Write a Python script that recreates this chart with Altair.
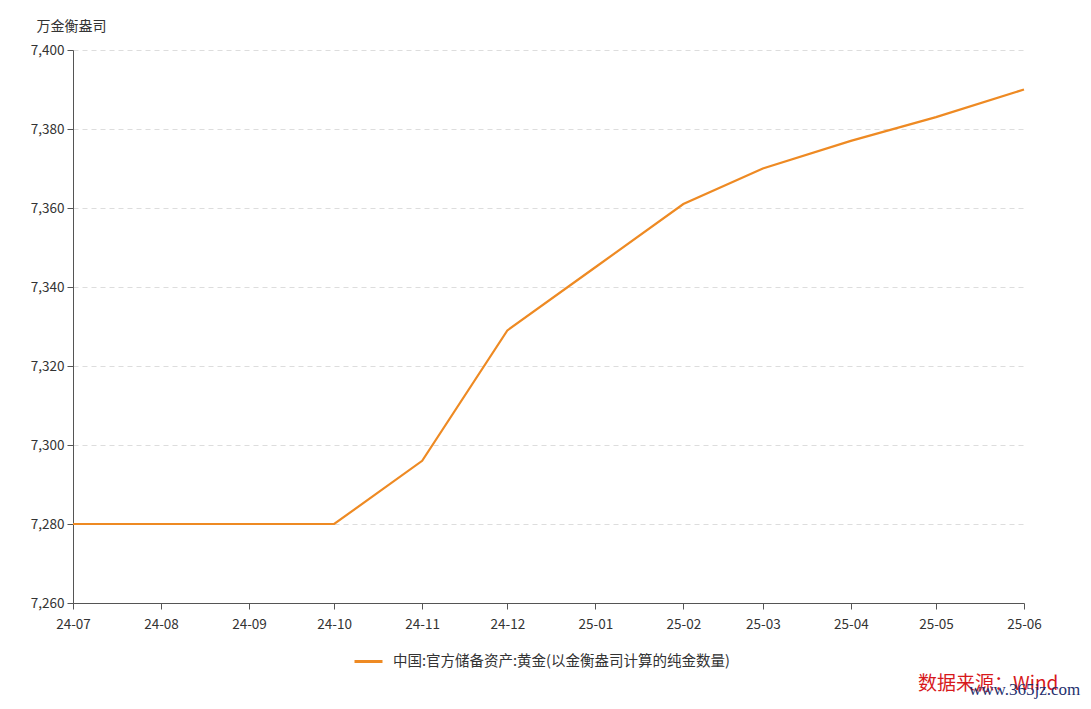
import altair as alt
import pandas as pd

months = ["2024-07-01", "2024-08-01", "2024-09-01", "2024-10-01", "2024-11-01", "2024-12-01",
          "2025-01-01", "2025-02-01", "2025-03-01", "2025-04-01", "2025-05-01", "2025-06-01"]
values = [7280, 7280, 7280, 7280, 7296, 7329, 7345, 7361, 7370, 7377, 7383, 7390]
series_name = "中国:官方储备资产:黄金(以金衡盎司计算的纯金数量)"
y_ticks = [7260, 7280, 7300, 7320, 7340, 7360, 7380, 7400]
unit_label = "万金衡盎司"
source_label = "数据来源：Wind"
watermark = "www.365jz.com"

df = pd.DataFrame({"date": months, "value": values, "series": [series_name] * len(months)})

FONT = "Noto Sans CJK SC"
tick_dates = [alt.DateTime(year=int(m[:4]), month=int(m[5:7]), date=1, utc=True) for m in months]

line = alt.Chart(df).mark_line(strokeWidth=2.2, color="#EE8A23").encode(
    x=alt.X("date:T",
            scale=alt.Scale(type="utc", domain=[tick_dates[0], tick_dates[-1]], nice=False),
            axis=alt.Axis(title=None, labelExpr="utcFormat(datum.value, '%y-%m')", values=tick_dates,
                          grid=False, domainColor="#555", tickColor="#555", tickSize=6,
                          labelFlush=False, labelOverlap=False,
                          labelColor="#333", labelFontSize=13.5, labelPadding=8, labelFont=FONT)),
    y=alt.Y("value:Q",
            scale=alt.Scale(domain=[7260, 7400], nice=False, zero=False),
            axis=alt.Axis(title=unit_label, titleAngle=0, titleAlign="left", titleX=-37, titleY=-20,
                          titleBaseline="alphabetic", titleFontWeight="normal", titleFontSize=14,
                          titleColor="#333", titleFont=FONT,
                          values=y_ticks, labelExpr="format(datum.value, ',')",
                          grid=True, gridDash=[5, 4], gridColor="#DDDDDD",
                          domainColor="#555", tickColor="#555", tickSize=6, labelColor="#333",
                          labelFontSize=13.5, labelPadding=3, labelFont=FONT)),
    color=alt.Color("series:N", scale=alt.Scale(domain=[series_name], range=["#EE8A23"]),
                    legend=alt.Legend(title=None, orient="none", legendX=280, legendY=596,
                                      symbolType="stroke", symbolStrokeWidth=3, symbolSize=784,
                                      labelOffset=9,
                                      labelFontSize=14.5, labelColor="#333", labelFont=FONT,
                                      labelLimit=700)),
)

src = alt.Chart(pd.DataFrame({"t": [source_label]})).mark_text(
    align="left", baseline="alphabetic", fontSize=19, color="#D7191C", font=FONT
).encode(x=alt.value(845), y=alt.value(640), text="t:N")

wm = alt.Chart(pd.DataFrame({"t": [watermark]})).mark_text(
    align="left", baseline="alphabetic", fontSize=17, color="#1F2F6E", font="Liberation Serif"
).encode(x=alt.value(896), y=alt.value(645), text="t:N")

chart = alt.layer(line, src, wm).properties(
    width=951, height=553,
    background="white",
    autosize=alt.AutoSizeParams(type="none"),
    padding={"left": 65, "top": 42, "right": 59, "bottom": 98},
).configure_view(stroke=None)

chart.save("out.html", embed_options={"renderer": "svg", "actions": False})
